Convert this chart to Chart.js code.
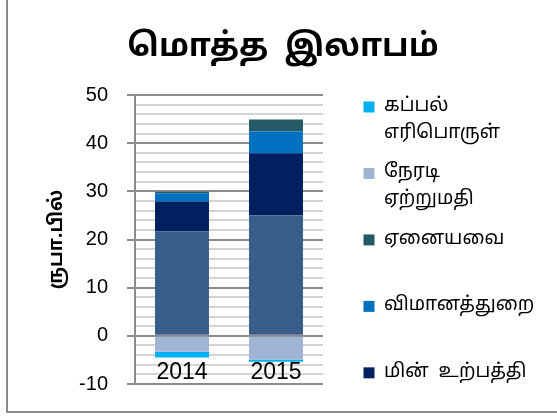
<!DOCTYPE html>
<html>
<head>
<meta charset="utf-8">
<script src="https://cdn.jsdelivr.net/npm/chart.js@4.4.1/dist/chart.umd.min.js"></script>
<style>
  html, body { margin: 0; padding: 0; background: #fff; overflow: hidden; }
  #wrap { position: relative; width: 557px; height: 416px; }
  #frame { position: absolute; left: 6px; top: -4px; width: 600px; height: 417px;
           border: 2px solid #8a8a8a; box-sizing: border-box; pointer-events: none; }
</style>
</head>
<body>
<div id="wrap">
  <canvas id="profitChart" width="557" height="416"></canvas>
  <div id="frame"></div>
</div>
<script>
// values (rupees, billions)
const years = ['2014', '2015'];
const domestic = [21.7, 25.0];
const powerGen = [6.2, 12.9];
const aviation = [1.7, 4.5];
const others = [0.3, 2.5];
const directExport = [-3.3, -4.9];
const bunkering = [-1.2, -0.5];

const seriesNames = ['உள்நாட்டு விற்பனை', 'மின்  உற்பத்தி', 'விமானத்துறை', 'ஏனையவை', 'நேரடி ஏற்றுமதி', 'கப்பல் எரிபொருள்'];
const legendLines = [[], ['மின்  உற்பத்தி', ''], ['விமானத்துறை', ''], ['ஏனையவை', ''], ['நேரடி', 'ஏற்றுமதி'], ['கப்பல்', 'எரிபொருள்']];
const colors = ['#3a5e8a', '#002060', '#0070c0', '#235a66', '#a0b4d6', '#00b0f0'];

const yMin = -10, yMax = 50, yStep = 2;

const tamil = "'Noto Sans Tamil', 'Lohit Tamil', 'Noto Sans', 'DejaVu Sans', sans-serif";
const digits = "'Liberation Sans', Arial, sans-serif";

const values = [domestic, powerGen, aviation, others, directExport, bunkering];

// keep the legend box a fixed width so the plot lines up
const legendWidth = {
    id: 'legendWidth',
    beforeLayout(chart) {
        const lg = chart.legend;
        if (lg && !lg._fixedWidth) {
            const fit = lg.fit;
            lg.fit = function () { fit.call(this); this.width = 206; };
            lg._fixedWidth = true;
        }
    }
};

const ctx = document.getElementById('profitChart').getContext('2d');
new Chart(ctx, {
    type: 'bar',
    data: {
        labels: years,
        datasets: values.map((v, i) => ({
            label: seriesNames[i],
            data: v,
            backgroundColor: colors[i],
            borderWidth: 0,
            barPercentage: 0.574,
            categoryPercentage: 1
        }))
    },
    options: {
        responsive: false,
        animation: false,
        layout: { padding: { left: 9, right: 0, top: 0, bottom: 0 } },
        plugins: {
            title: {
                display: true,
                text: 'மொத்த  இலாபம்',
                color: '#000',
                font: { family: tamil, size: 32, weight: 'bold' },
                padding: { top: 30, bottom: 26.6 }
            },
            legend: {
                position: 'right',
                align: 'start',
                reverse: true,
                title: { display: true, text: ' ', font: { size: 10, lineHeight: 1.2 }, padding: { top: 73, bottom: 0 } },
                labels: {
                    boxWidth: 11,
                    boxHeight: 11,
                    padding: 12.5,
                    color: '#000',
                    font: { family: tamil, size: 19, lineHeight: 1.42 },
                    filter: item => legendLines[item.datasetIndex].length > 0,
                    generateLabels(chart) {
                        const items = Chart.defaults.plugins.legend.labels.generateLabels(chart);
                        return items.map(it => ({ ...it, text: legendLines[it.datasetIndex] }));
                    }
                }
            },
            tooltip: { enabled: false }
        },
        scales: {
            x: {
                stacked: true,
                position: { y: -4.7 },
                grid: { display: false, drawTicks: false },
                border: { display: false },
                ticks: { padding: 0, color: '#000', font: { family: digits, size: 23 } }
            },
            xB: {
                type: 'category',
                position: 'bottom',
                grid: { display: false },
                border: { display: false },
                ticks: { display: false },
                afterFit(scale) { scale.height = 32; }
            },
            y: {
                stacked: true,
                min: yMin,
                max: yMax,
                ticks: {
                    stepSize: yStep,
                    autoSkip: false,
                    padding: 19,
                    color: '#000',
                    font: { family: digits, size: 20 },
                    callback: v => (v % 10 === 0 ? v : '')
                },
                grid: {
                    lineWidth: 2,
                    tickLength: 8,
                    color: c => (c.tick && c.tick.value % 10 === 0 ? '#8c8c8c' : '#d4d4d4'),
                    tickColor: c => (c.tick && c.tick.value % 10 === 0 ? '#8c8c8c' : 'rgba(0,0,0,0)')
                },
                border: { color: '#8c8c8c', width: 2 },
                title: {
                    display: true,
                    text: 'ருபா.பில்',
                    color: '#000',
                    font: { family: tamil, size: 19, weight: 'bold' },
                    padding: { top: 37.6, bottom: 10 }
                },
                afterFit(scale) { scale.width = 126; }
            },
            yR: {
                type: 'linear',
                position: 'right',
                grid: { display: false },
                border: { display: false },
                ticks: { display: false },
                afterFit(scale) { scale.width = 28; }
            }
        }
    },
    plugins: [legendWidth]
});
</script>
</body>
</html>
